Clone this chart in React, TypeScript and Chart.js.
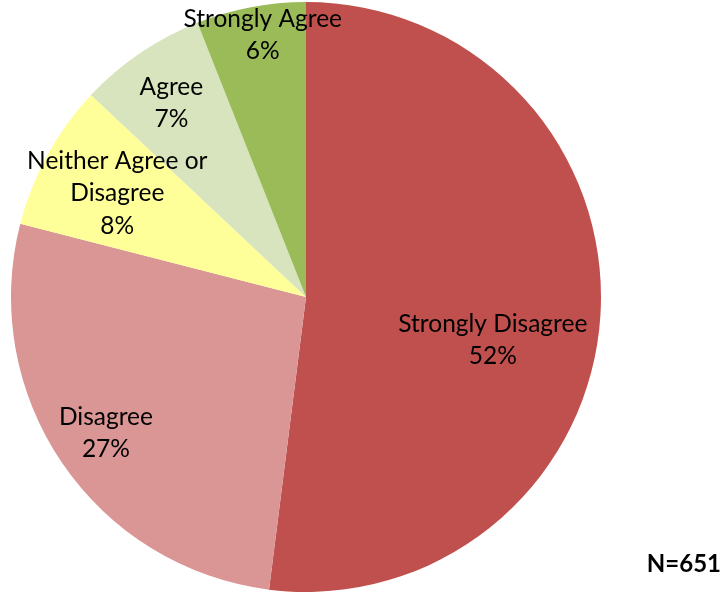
import React, { useEffect, useRef } from "react";
import { Chart, registerables } from "chart.js";

Chart.register(...registerables);

const categories = ["Strongly Disagree", "Disagree", "Neither Agree or Disagree", "Agree", "Strongly Agree"];
const labelLines = [["Strongly Disagree"], ["Disagree"], ["Neither Agree or", "Disagree"], ["Agree"], ["Strongly Agree"]];
const percentValues = [52, 27, 8, 7, 6];
const sliceColors = ["#C0504D", "#D99694", "#FFFF99", "#D7E4BD", "#9BBB59"];
const sampleNote = "N=651";

// label placement as fraction of radius and angular nudge (radians)
const labelRadiusFrac = [0.65, 0.82, 0.73, 0.8, 0.9];
const labelAngleNudge = [0.164, 0, 0, -0.01, 0.025];

const FONT = "Lato, 'Open Sans', sans-serif";

const labelPlugin = {
  id: "sliceLabels",
  afterDatasetsDraw(chart: any) {
    const ctx = chart.ctx;
    const meta = chart.getDatasetMeta(0);
    ctx.save();
    ctx.fillStyle = "#000";
    ctx.textAlign = "center";
    ctx.textBaseline = "middle";
    ctx.font = `24.5px ${FONT}`;
    meta.data.forEach((arc: any, i: number) => {
      const p = arc.getProps(["x", "y", "startAngle", "endAngle", "outerRadius"], true);
      const mid = (p.startAngle + p.endAngle) / 2 + labelAngleNudge[i];
      const r = p.outerRadius * labelRadiusFrac[i];
      const cx = p.x + Math.cos(mid) * r;
      const cy = p.y + Math.sin(mid) * r;
      const lines = [...labelLines[i], `${percentValues[i]}%`];
      const lh = 32.5;
      const top = cy - ((lines.length - 1) * lh) / 2;
      lines.forEach((t, k) => ctx.fillText(t, cx, top + k * lh));
    });
    ctx.font = `bold 24px ${FONT}`;
    ctx.textAlign = "right";
    ctx.fillText(sampleNote, chart.width - 5, chart.chartArea.bottom - 28);
    ctx.restore();
  },
};

export default function App() {
  const ref = useRef<HTMLCanvasElement>(null);
  useEffect(() => {
    document.body.style.margin = "0";
    const chart = new Chart(ref.current!, {
      type: "pie",
      data: {
        labels: categories,
        datasets: [
          {
            data: percentValues,
            backgroundColor: sliceColors,
            borderWidth: 0,
          },
        ],
      },
      options: {
        animation: false,
        responsive: false,
        layout: { padding: { left: 11, right: 125, top: 2, bottom: 3 } },
        plugins: { legend: { display: false }, tooltip: { enabled: false } },
      },
      plugins: [labelPlugin],
    });
    return () => chart.destroy();
  }, []);
  return <canvas ref={ref} width={726} height={595} style={{ display: "block" }} />;
}
